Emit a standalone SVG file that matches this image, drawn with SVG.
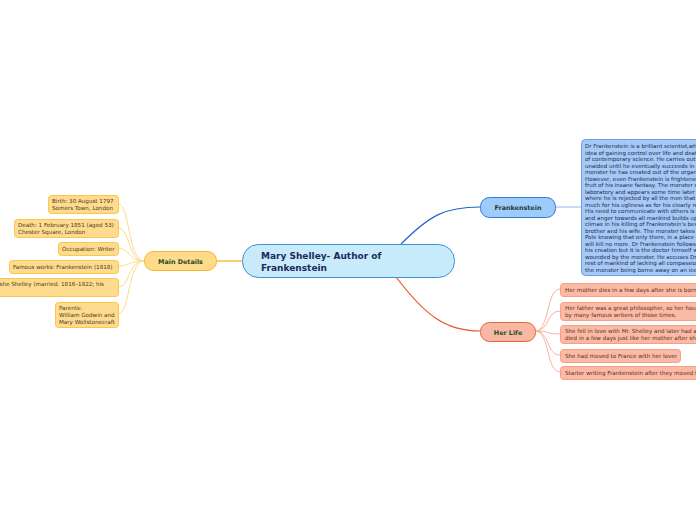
<svg xmlns="http://www.w3.org/2000/svg" width="696" height="520" viewBox="0 0 696 520">
<style>
text{font-family:"DejaVu Sans","Verdana",sans-serif}
.leaf{font-size:5.6px;fill:#4a3a20}
.md{fill:#fedb8e;stroke:#f9c84a;stroke-width:1}
.hl{fill:#fbbaa5;stroke:#f7a184;stroke-width:1}
.hlt{font-size:5.6px;fill:#5a2e20}
.fk{fill:#a6c9f8;stroke:#6b9fe6;stroke-width:1}
.fkt{font-size:5.5px;fill:#1d2a4a}
.mdc{fill:none;stroke:#fddb8a;stroke-width:1}
.hlc{fill:none;stroke:#f9b29c;stroke-width:1}
</style>
<rect width="696" height="520" fill="#ffffff"/>
<g id="connectors">
<path d="M216,261 H242" stroke="#f5b400" stroke-width="1.2" fill="none"/>
<path d="M401,244 C430,215 445,207 480,207" stroke="#1a64d8" stroke-width="1.2" fill="none"/>
<path d="M396,277 C425,315 445,331 480,331" stroke="#e8552a" stroke-width="1.2" fill="none"/>
<path d="M555,207 H581" stroke="#8fb8ee" stroke-width="1" fill="none"/>
<path class="mdc" d="M144,261 C128,261 130,204 118,204"/>
<path class="mdc" d="M144,261 C128,261 130,228 118,228"/>
<path class="mdc" d="M144,261 C128,261 130,248 118,248"/>
<path class="mdc" d="M144,261 C128,261 130,266 118,266"/>
<path class="mdc" d="M144,261 C128,261 130,287 118,287"/>
<path class="mdc" d="M144,261 C128,261 130,314 118,314"/>
<path class="hlc" d="M535,331 C550,331 546,289 560,289"/>
<path class="hlc" d="M535,331 C550,331 546,311 560,311"/>
<path class="hlc" d="M535,331 C550,331 546,334 560,334"/>
<path class="hlc" d="M535,331 C550,331 546,355 560,355"/>
<path class="hlc" d="M535,331 C550,331 546,372 560,372"/>
</g>
<g id="central">
<rect x="242.5" y="244.5" width="212" height="33" rx="16" fill="#c7ebfb" stroke="#3f8fd2" stroke-width="1"/>
<text x="261" y="259" font-size="9" font-weight="bold" fill="#1b2a5a">Mary Shelley- Author of</text>
<text x="261" y="270.5" font-size="9" font-weight="bold" fill="#1b2a5a">Frankenstein</text>
</g>
<g id="main-details">
<rect x="144.5" y="251.5" width="72" height="19" rx="9" fill="#fedb8a" stroke="#f5b731" stroke-width="1"/>
<text x="180.5" y="263.5" font-size="6.4" font-weight="bold" fill="#1d4d2a" text-anchor="middle">Main Details</text>
</g>
<g id="birth">
<rect class="md" x="48.5" y="195.5" width="70" height="18" rx="3"/>
<text class="leaf" x="52" y="203">Birth: 30 August 1797</text>
<text class="leaf" x="52" y="210">Somers Town, London</text>
</g>
<g id="death">
<rect class="md" x="14.5" y="219.5" width="104" height="18" rx="3"/>
<text class="leaf" x="18" y="227">Death: 1 February 1851 (aged 53)</text>
<text class="leaf" x="18" y="234">Chester Square, London</text>
</g>
<g id="occupation">
<rect class="md" x="58.5" y="242.5" width="60" height="13" rx="3"/>
<text class="leaf" x="62" y="250.8">Occupation: Writer</text>
</g>
<g id="famous-works">
<rect class="md" x="9.5" y="260.5" width="109" height="13" rx="3"/>
<text class="leaf" x="13" y="268.8">Famous works: Frankenstein (1818)</text>
</g>
<g id="spouse">
<rect class="md" x="-80.5" y="278.5" width="199" height="18" rx="3"/>
<text class="leaf" x="104" y="286" text-anchor="end">Spouse: Percy Bysshe Shelley (married. 1816–1822; his</text>
<text class="leaf" x="-76" y="293">death)</text>
</g>
<g id="parents">
<rect class="md" x="55.5" y="302.5" width="63" height="25" rx="3"/>
<text class="leaf" x="59" y="310">Parents:</text>
<text class="leaf" x="59" y="317">William Godwin and</text>
<text class="leaf" x="59" y="324">Mary Wollstonecraft</text>
</g>
<g id="frankenstein">
<rect x="480.5" y="197.5" width="75" height="20" rx="9" fill="#9fcbfb" stroke="#2f7bd8" stroke-width="1"/>
<text x="518" y="210" font-size="6.4" font-weight="bold" fill="#1d3d3a" text-anchor="middle">Frankenstein</text>
</g>
<g id="frankenstein-summary">
<rect class="fk" x="581.5" y="139.5" width="170" height="136" rx="4"/>
<text class="fkt" x="585" y="148">Dr Frankenstein is a brilliant scientist,who is obsessed with the</text>
<text class="fkt" x="585" y="154.5">idea of gaining control over life and death through the methods</text>
<text class="fkt" x="585" y="161">of contemporary science. He carries out his experiments</text>
<text class="fkt" x="585" y="167.5">unaided until he eventually succeeds in bringing to life a</text>
<text class="fkt" x="585" y="174">monster he has created out of the organs of dead bodies.</text>
<text class="fkt" x="585" y="180.5">However, even Frankenstein is frightened and horrified by the</text>
<text class="fkt" x="585" y="187">fruit of his insane fantasy. The monster escapes from the</text>
<text class="fkt" x="585" y="193.5">laboratory and appears some time later in the countryside</text>
<text class="fkt" x="585" y="200">where he is rejected by all the men that he meets, not so</text>
<text class="fkt" x="585" y="206.5">much for his ugliness as for his clearly recognizable diversity.</text>
<text class="fkt" x="585" y="213">His need to communicate with others is frustrated, and his hate</text>
<text class="fkt" x="585" y="219.5">and anger towards all mankind builds up until it reaches a</text>
<text class="fkt" x="585" y="226">climax in his killing of Frankenstein's best friend, his little</text>
<text class="fkt" x="585" y="232.5">brother and his wife. The monster takes refuge at the North</text>
<text class="fkt" x="585" y="239">Pole knowing that only there, in a place without other men, he</text>
<text class="fkt" x="585" y="245.5">will kill no more. Dr Frankenstein follows him in order to destroy</text>
<text class="fkt" x="585" y="252">his creation but it is the doctor himself who dies after being</text>
<text class="fkt" x="585" y="258.5">wounded by the monster. He accuses Dr Frankenstein and the</text>
<text class="fkt" x="585" y="265">rest of mankind of lacking all compassion. The novel ends with</text>
<text class="fkt" x="585" y="271.5">the monster being borne away on an ice raft into the darkness.</text>
</g>
<g id="her-life">
<rect x="480.5" y="322.5" width="55" height="19" rx="9" fill="#f9b8a4" stroke="#e8643a" stroke-width="1"/>
<text x="508" y="334.5" font-size="6.4" font-weight="bold" fill="#1d4d2a" text-anchor="middle">Her Life</text>
</g>
<g id="life-1">
<rect class="hl" x="560.5" y="283.5" width="170" height="13" rx="3"/>
<text class="hlt" x="565" y="291.8">Her mother dies in a few days after she is born.</text>
</g>
<g id="life-2">
<rect class="hl" x="560.5" y="302.5" width="170" height="18" rx="3"/>
<text class="hlt" x="565" y="310">Her father was a great philosopher, so her house was visited</text>
<text class="hlt" x="565" y="317">by many famous writers of those times.</text>
</g>
<g id="life-3">
<rect class="hl" x="560.5" y="325.5" width="170" height="18" rx="3"/>
<text class="hlt" x="565" y="333">She fell in love with Mr. Shelley and later had a baby who</text>
<text class="hlt" x="565" y="340">died in a few days just like her mother after she was born.</text>
</g>
<g id="life-4">
<rect class="hl" x="560.5" y="349.5" width="120" height="13" rx="3"/>
<text class="hlt" x="565" y="357.8">She had moved to France with her lover</text>
</g>
<g id="life-5">
<rect class="hl" x="560.5" y="366.5" width="170" height="13" rx="3"/>
<text class="hlt" x="565" y="374.8">Starter writing Frankenstein after they moved to Switzerland</text>
</g>
</svg>
